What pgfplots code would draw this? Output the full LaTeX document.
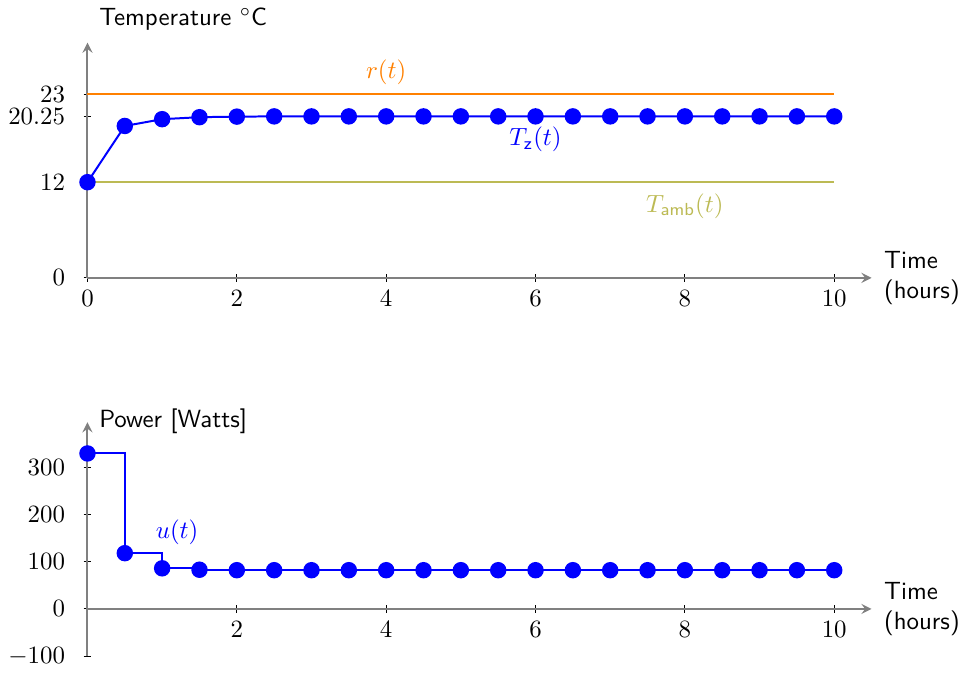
\documentclass[border=0pt]{standalone}
\usepackage{pgfplots}
\pgfplotsset{compat=1.18}
\definecolor{ambcol}{RGB}{188,186,84}
\definecolor{refcol}{RGB}{255,128,0}

\pgfplotsset{
    myaxis/.style={
        scale only axis,
        axis line style={gray, thick, ->},
        every tick/.style={black, thin},
        major tick length=3pt,
        tick align=outside,
        yticklabel style={xshift=-4pt},
        xmin=0, xmax=10.5,
        clip=false,
    },
}

\begin{document}
\begin{tikzpicture}
% temperature
\begin{axis}[
    myaxis,
    width=315pt, height=94.5pt,
    axis lines=left,
    ymin=0, ymax=29.5,
    xtick={0,2,...,10},
    ytick={0,12,20.25,23},
    yticklabels={$0$,$12$,$20.25$,$23$},
]
\addplot[refcol, thick] coordinates {(0,23) (10,23)};
\addplot[ambcol, thick] coordinates {(0,12) (10,12)};
\addplot[blue, thick, mark=*, mark size=2.9pt] coordinates {
    (0,12) (0.5,19.05) (1,19.9) (1.5,20.15) (2,20.22) (2.5,20.25)
    (3,20.25) (3.5,20.25) (4,20.25) (4.5,20.25) (5,20.25) (5.5,20.25)
    (6,20.25) (6.5,20.25) (7,20.25) (7.5,20.25) (8,20.25) (8.5,20.25)
    (9,20.25) (9.5,20.25) (10,20.25)
};
\node[refcol, anchor=south] at (axis cs:4,23.1) {$r(t)$};
\node[blue, anchor=north] at (axis cs:6,20.0) {$T_{\mathsf{z}}(t)$};
\node[ambcol, anchor=north] at (axis cs:8,11.7) {$T_{\mathsf{amb}}(t)$};
\node[anchor=west, font=\sffamily] at (axis cs:0.04,32.4) {Temperature $^\circ$C};
\node[anchor=west, align=left, font=\sffamily] at (axis cs:10.55,0) {Time\\(hours)};
\end{axis}

% power
\begin{axis}[
    myaxis,
    at={(0pt,-152pt)},
    width=315pt, height=94pt,
    axis x line=middle,
    axis y line=left,
    ymin=-100, ymax=395,
    xtick={2,4,...,10},
    ytick={-100,0,100,200,300},
]
\addplot[blue, thick, const plot, mark=*, mark size=2.9pt] coordinates {
    (0,329) (0.5,118) (1,86) (1.5,83) (2,82) (2.5,82)
    (3,82) (3.5,82) (4,82) (4.5,82) (5,82) (5.5,82)
    (6,82) (6.5,82) (7,82) (7.5,82) (8,82) (8.5,82)
    (9,82) (9.5,82) (10,82)
};
\node[blue, anchor=south] at (axis cs:1.2,118) {$u(t)$};
\node[anchor=west, font=\sffamily] at (axis cs:0.04,398) {Power [Watts]};
\node[anchor=west, align=left, font=\sffamily] at (axis cs:10.55,0) {Time\\(hours)};
\end{axis}
\end{tikzpicture}
\end{document}
